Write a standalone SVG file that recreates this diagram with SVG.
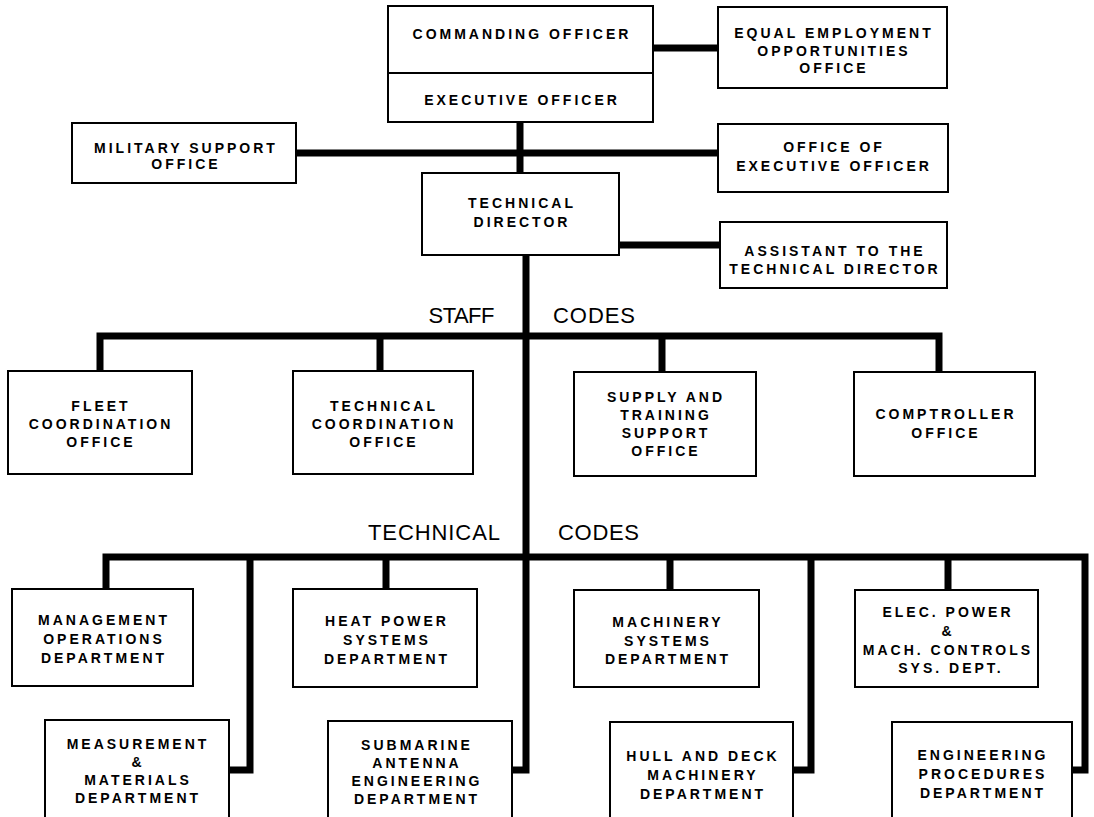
<svg xmlns="http://www.w3.org/2000/svg" width="1094" height="817" viewBox="0 0 1094 817">
<style>
.box{fill:#fff;stroke:#000;stroke-width:2}
.t{font-family:"Liberation Sans",Arial,Helvetica,sans-serif;font-weight:bold;font-size:14px;letter-spacing:3px;text-anchor:middle;fill:#000}
.lbl{font-family:"Liberation Sans",Arial,Helvetica,sans-serif;font-size:22px;fill:#000}
.c{fill:none;stroke:#000;stroke-width:7;stroke-linejoin:miter}
</style>
<rect width="1094" height="817" fill="#fff"/>
<g id="connectors">
<path class="c" d="M653 48H718"/>
<path class="c" d="M520 122V173"/>
<path class="c" d="M296 153H718"/>
<path class="c" d="M619 245H720"/>
<path class="c" d="M526 255V770H512"/>
<path class="c" d="M100 371V336H939V372"/>
<path class="c" d="M380 336V371"/>
<path class="c" d="M662 336V372"/>
<path class="c" d="M106 589V557H1085V770H1072"/>
<path class="c" d="M250 557V770H229"/>
<path class="c" d="M386 557V589"/>
<path class="c" d="M670 557V590"/>
<path class="c" d="M811 557V770H793"/>
<path class="c" d="M948 557V590"/>
</g>
<g id="labels">
<text class="lbl" x="494" y="323" text-anchor="end" letter-spacing="-0.5">STAFF</text>
<text class="lbl" x="553" y="323" textLength="82">CODES</text>
<text class="lbl" x="368" y="540" textLength="132">TECHNICAL</text>
<text class="lbl" x="558" y="540" textLength="81">CODES</text>
</g>
<g id="commanding-executive-officer">
<rect class="box" x="388" y="6" width="265" height="116"/>
<line x1="388" y1="73" x2="653" y2="73" stroke="#000" stroke-width="2"/>
<text class="t" x="522" y="39">COMMANDING OFFICER</text>
<text class="t" x="522" y="105">EXECUTIVE OFFICER</text>
</g>
<g id="eeo-office">
<rect class="box" x="718" y="7" width="229" height="81"/>
<text class="t" x="834" y="38">EQUAL EMPLOYMENT</text>
<text class="t" x="834" y="56">OPPORTUNITIES</text>
<text class="t" x="834" y="73">OFFICE</text>
</g>
<g id="military-support">
<rect class="box" x="72" y="123" width="224" height="60"/>
<text class="t" x="186" y="153">MILITARY SUPPORT</text>
<text class="t" x="186" y="169">OFFICE</text>
</g>
<g id="office-of-xo">
<rect class="box" x="718" y="124" width="230" height="68"/>
<text class="t" x="834" y="152">OFFICE OF</text>
<text class="t" x="834" y="171">EXECUTIVE OFFICER</text>
</g>
<g id="technical-director">
<rect class="box" x="422" y="173" width="197" height="82"/>
<text class="t" x="522" y="208">TECHNICAL</text>
<text class="t" x="522" y="227">DIRECTOR</text>
</g>
<g id="assistant-td">
<rect class="box" x="720" y="222" width="227" height="66"/>
<text class="t" x="835" y="256">ASSISTANT TO THE</text>
<text class="t" x="835" y="274">TECHNICAL DIRECTOR</text>
</g>
<g id="fleet-coordination">
<rect class="box" x="8" y="371" width="184" height="103"/>
<text class="t" x="101" y="411">FLEET</text>
<text class="t" x="101" y="429">COORDINATION</text>
<text class="t" x="101" y="447">OFFICE</text>
</g>
<g id="technical-coordination">
<rect class="box" x="293" y="371" width="180" height="103"/>
<text class="t" x="384" y="411">TECHNICAL</text>
<text class="t" x="384" y="429">COORDINATION</text>
<text class="t" x="384" y="447">OFFICE</text>
</g>
<g id="supply-training">
<rect class="box" x="574" y="372" width="182" height="104"/>
<text class="t" x="666" y="402">SUPPLY AND</text>
<text class="t" x="666" y="420">TRAINING</text>
<text class="t" x="666" y="438">SUPPORT</text>
<text class="t" x="666" y="456">OFFICE</text>
</g>
<g id="comptroller">
<rect class="box" x="854" y="372" width="181" height="104"/>
<text class="t" x="946" y="419">COMPTROLLER</text>
<text class="t" x="946" y="438">OFFICE</text>
</g>
<g id="management-operations">
<rect class="box" x="12" y="589" width="181" height="97"/>
<text class="t" x="104" y="625">MANAGEMENT</text>
<text class="t" x="104" y="644">OPERATIONS</text>
<text class="t" x="104" y="663">DEPARTMENT</text>
</g>
<g id="heat-power">
<rect class="box" x="293" y="589" width="184" height="98"/>
<text class="t" x="387" y="626">HEAT POWER</text>
<text class="t" x="387" y="645">SYSTEMS</text>
<text class="t" x="387" y="664">DEPARTMENT</text>
</g>
<g id="machinery-systems">
<rect class="box" x="574" y="590" width="185" height="97"/>
<text class="t" x="668" y="627">MACHINERY</text>
<text class="t" x="668" y="646">SYSTEMS</text>
<text class="t" x="668" y="664">DEPARTMENT</text>
</g>
<g id="elec-power">
<rect class="box" x="855" y="590" width="183" height="97"/>
<text class="t" x="948" y="617">ELEC. POWER</text>
<text class="t" x="948" y="636">&amp;</text>
<text class="t" x="948" y="655">MACH. CONTROLS</text>
<text class="t" x="951" y="673">SYS. DEPT.</text>
</g>
<g id="measurement-materials">
<rect class="box" x="45" y="720" width="184" height="110"/>
<text class="t" x="138" y="749">MEASUREMENT</text>
<text class="t" x="138" y="767">&amp;</text>
<text class="t" x="138" y="785">MATERIALS</text>
<text class="t" x="138" y="803">DEPARTMENT</text>
</g>
<g id="submarine-antenna">
<rect class="box" x="328" y="721" width="184" height="110"/>
<text class="t" x="417" y="750">SUBMARINE</text>
<text class="t" x="417" y="768">ANTENNA</text>
<text class="t" x="417" y="786">ENGINEERING</text>
<text class="t" x="417" y="804">DEPARTMENT</text>
</g>
<g id="hull-deck">
<rect class="box" x="610" y="722" width="183" height="110"/>
<text class="t" x="703" y="761">HULL AND DECK</text>
<text class="t" x="703" y="780">MACHINERY</text>
<text class="t" x="703" y="799">DEPARTMENT</text>
</g>
<g id="engineering-procedures">
<rect class="box" x="892" y="722" width="180" height="110"/>
<text class="t" x="983" y="760">ENGINEERING</text>
<text class="t" x="983" y="779">PROCEDURES</text>
<text class="t" x="983" y="798">DEPARTMENT</text>
</g>
</svg>
